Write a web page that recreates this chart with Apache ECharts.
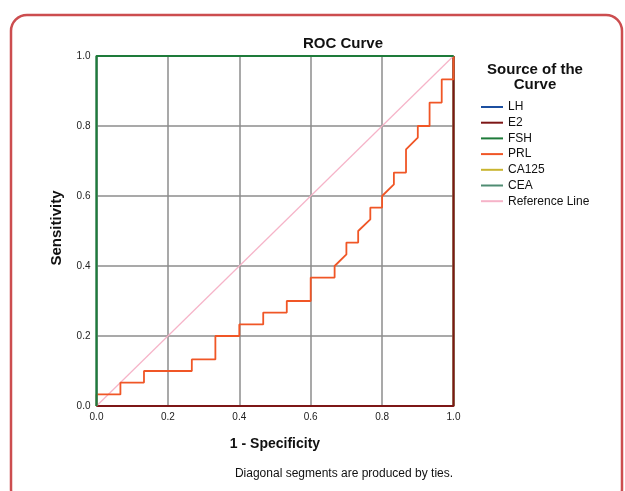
<!DOCTYPE html>
<html>
<head>
<meta charset="utf-8">
<script src="https://cdn.jsdelivr.net/npm/echarts@6/dist/echarts.min.js"></script>
<style>html,body{margin:0;padding:0;background:#fff;}#c{width:625px;height:491px;}</style>
</head>
<body>
<div id="c"></div>
<script>
// Tick labels
var tickValues = [0.0, 0.2, 0.4, 0.6, 0.8, 1.0];
// Legend / series names
var seriesNames = ['LH', 'E2', 'FSH', 'PRL', 'CA125', 'CEA', 'Reference Line'];
// PRL ROC curve (1 - specificity, sensitivity)
var prlFpr = [0, 0, 0.067, 0.067, 0.133, 0.133, 0.267, 0.267, 0.333, 0.333, 0.4, 0.4, 0.467, 0.467, 0.533, 0.533, 0.6, 0.6, 0.667, 0.667, 0.7, 0.7, 0.733, 0.733, 0.767, 0.767, 0.8, 0.8, 0.833, 0.833, 0.867, 0.867, 0.9, 0.9, 0.933, 0.933, 0.967, 0.967, 1.0, 1.0];
var prlTpr = [0, 0.033, 0.033, 0.067, 0.067, 0.1, 0.1, 0.133, 0.133, 0.2, 0.2, 0.233, 0.233, 0.267, 0.267, 0.3, 0.3, 0.367, 0.367, 0.4, 0.433, 0.467, 0.467, 0.5, 0.533, 0.567, 0.567, 0.6, 0.633, 0.667, 0.667, 0.733, 0.767, 0.8, 0.8, 0.867, 0.867, 0.933, 0.933, 1.0];
// Other curves
var lhFpr = [0, 1, 1];     var lhTpr = [0, 0, 1];
var e2Fpr = [0, 1, 1];     var e2Tpr = [0, 0, 1];
var fshFpr = [0, 0, 1];    var fshTpr = [0, 1, 1];
var ca125Fpr = [0, 1, 1];  var ca125Tpr = [0, 0, 1];
var ceaFpr = [0, 0, 1];    var ceaTpr = [0, 1, 1];
var refFpr = [0, 1];       var refTpr = [0, 1];

function pairs(xs, ys) { return xs.map(function (x, i) { return [x, ys[i]]; }); }

var colors = {
  'LH': '#1c4fa0', 'E2': '#7d1616', 'FSH': '#1e7b3a', 'PRL': '#f05626',
  'CA125': '#c9b530', 'CEA': '#4f8c72', 'Reference Line': '#f6b3c8'
};
function mk(name, xs, ys, z, w) {
  return {
    name: name, type: 'line', data: pairs(xs, ys), showSymbol: false, symbol: 'none',
    clip: false, z: z, color: colors[name], animation: false,
    lineStyle: { width: w, color: colors[name] }
  };
}

var chart = echarts.init(document.getElementById('c'), null, { renderer: 'canvas' });
var FONT = 'Liberation Sans, Arial, sans-serif';
chart.setOption({
  animation: false,
  backgroundColor: '#fff',
  grid: { left: 96.5, right: 171.5, top: 56, bottom: 85 },
  xAxis: {
    type: 'value', min: 0, max: 1, interval: 0.2,
    axisLine: { show: false }, axisTick: { show: false },
    splitLine: { show: true, lineStyle: { color: '#8c8c8c', width: 1.5 } },
    axisLabel: { fontSize: 10, color: '#222', fontFamily: FONT, margin: 6,
      formatter: function (v) { return tickValues.indexOf(+v.toFixed(1)) >= 0 ? v.toFixed(1) : ''; } }
  },
  yAxis: {
    type: 'value', min: 0, max: 1, interval: 0.2,
    axisLine: { show: false }, axisTick: { show: false },
    splitLine: { show: true, lineStyle: { color: '#8c8c8c', width: 1.5 } },
    axisLabel: { fontSize: 10, color: '#222', fontFamily: FONT, margin: 6,
      formatter: function (v) { return v.toFixed(1); } }
  },
  legend: {
    orient: 'vertical', left: 481, top: 100, padding: 0,
    data: seriesNames, icon: 'rect', itemWidth: 22, itemHeight: 2, itemGap: 1.7,
    textStyle: { fontSize: 12, lineHeight: 14, color: '#111', fontFamily: FONT },
    selectedMode: false
  },
  graphic: [
    { type: 'rect', shape: { x: 11, y: 15, width: 611, height: 490, r: 16 },
      style: { fill: 'none', stroke: '#cc4d4f', lineWidth: 2.5 }, silent: true },
    { type: 'text', x: 343, y: 44, style: { text: 'ROC Curve', font: 'bold 15px ' + FONT, fill: '#111', align: 'center', verticalAlign: 'middle' } },
    { type: 'text', x: 275, y: 444, style: { text: '1 - Specificity', font: 'bold 14px ' + FONT, fill: '#111', align: 'center', verticalAlign: 'middle' } },
    { type: 'text', x: 57, y: 228, rotation: Math.PI / 2, style: { text: 'Sensitivity', font: 'bold 15px ' + FONT, fill: '#111', align: 'center', verticalAlign: 'middle' } },
    { type: 'text', x: 344, y: 474, style: { text: 'Diagonal segments are produced by ties.', font: '12px ' + FONT, fill: '#111', align: 'center', verticalAlign: 'middle' } },
    { type: 'text', x: 535, y: 70, style: { text: 'Source of the', font: 'bold 15px ' + FONT, fill: '#111', align: 'center', verticalAlign: 'middle' } },
    { type: 'text', x: 535, y: 85, style: { text: 'Curve', font: 'bold 15px ' + FONT, fill: '#111', align: 'center', verticalAlign: 'middle' } }
  ],
  series: [
    mk('LH', lhFpr, lhTpr, 2, 2),
    mk('E2', e2Fpr, e2Tpr, 3, 2),
    mk('FSH', fshFpr, fshTpr, 7, 2),
    mk('PRL', prlFpr, prlTpr, 5, 1.8),
    mk('CA125', ca125Fpr, ca125Tpr, 2, 2),
    mk('CEA', ceaFpr, ceaTpr, 6, 2),
    mk('Reference Line', refFpr, refTpr, 4, 1.2)
  ]
});
</script>
</body>
</html>
